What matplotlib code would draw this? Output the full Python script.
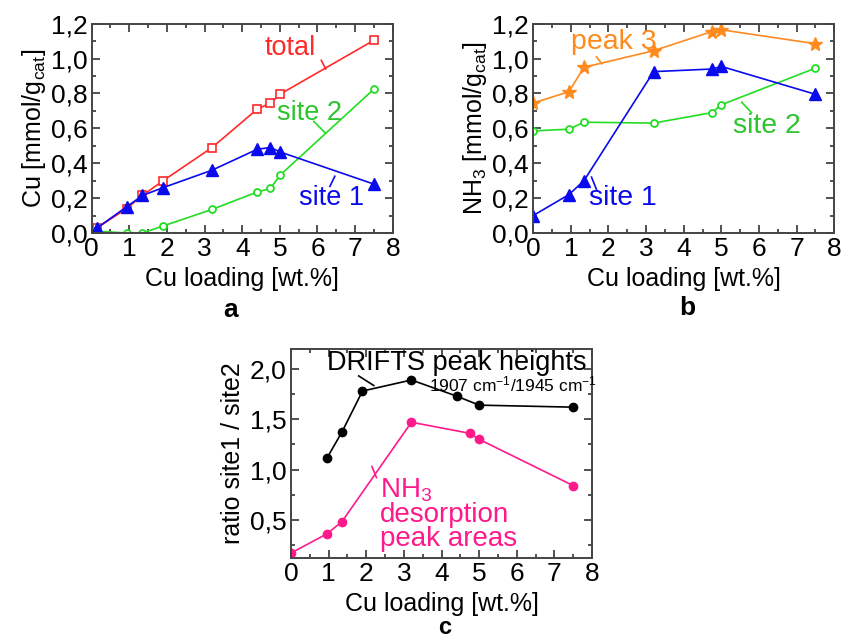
import matplotlib
matplotlib.use('Agg')
import matplotlib.pyplot as plt
from matplotlib.ticker import MultipleLocator, FuncFormatter

plt.rcParams['font.family'] = ['Liberation Sans', 'DejaVu Sans']
plt.rcParams['mathtext.fontset'] = 'custom'
plt.rcParams['mathtext.rm'] = 'Liberation Sans'
plt.rcParams['mathtext.it'] = 'Liberation Sans:italic'

# panel a: Cu content vs Cu loading
a_x = [0.15, 0.93, 1.35, 1.9, 3.2, 4.4, 4.75, 5.0, 7.5]
a_total = [0.03, 0.14, 0.215, 0.30, 0.49, 0.71, 0.745, 0.795, 1.105]
a_site1 = [0.03, 0.15, 0.215, 0.26, 0.36, 0.48, 0.49, 0.465, 0.28]
a_site2 = [0.01, 0.0, 0.0, 0.04, 0.135, 0.235, 0.255, 0.33, 0.825]

# panel b: NH3 vs Cu loading
b_x = [0.0, 0.95, 1.35, 3.2, 4.75, 5.0, 7.5]
b_peak3 = [0.745, 0.81, 0.95, 1.045, 1.155, 1.165, 1.085]
b_site1 = [0.10, 0.22, 0.30, 0.925, 0.94, 0.955, 0.795]
b_site2 = [0.585, 0.595, 0.635, 0.63, 0.69, 0.735, 0.945]

# panel c: ratio site1/site2
c_drifts_x = [0.95, 1.35, 1.9, 3.2, 4.4, 5.0, 7.5]
c_drifts = [1.11, 1.37, 1.78, 1.89, 1.73, 1.64, 1.62]
c_nh3_x = [0.0, 0.95, 1.35, 3.2, 4.75, 5.0, 7.5]
c_nh3 = [0.17, 0.36, 0.48, 1.47, 1.36, 1.30, 0.84]

RED = '#ff2a2a'
BLUE = '#0a0aee'
GREEN = '#22dd22'
GREEN_TXT = '#2ec42e'
ORANGE = '#ff8a1e'
PINK = '#ff1a8c'

comma = FuncFormatter(lambda v, p: ('%.1f' % v).replace('.', ','))


def style_ax(ax, ymaj, ymin):
    ax.set_xlim(0, 8)
    ax.xaxis.set_major_locator(MultipleLocator(1))
    ax.xaxis.set_minor_locator(MultipleLocator(0.5))
    ax.yaxis.set_major_locator(MultipleLocator(ymaj))
    ax.yaxis.set_minor_locator(MultipleLocator(ymin))
    ax.yaxis.set_major_formatter(comma)
    ax.tick_params(which='both', direction='in', top=True, right=True, labelsize=19,
                   width=1.2, color='#333333', pad=3)
    ax.tick_params(which='major', length=6)
    ax.tick_params(which='minor', length=3)
    for s in ax.spines.values():
        s.set_linewidth(1.4)
        s.set_color('#444444')
    ax.set_xlabel('Cu loading [wt.%]', fontsize=18, labelpad=4)


def leader(ax, p1, p2, color):
    ax.plot([p1[0], p2[0]], [p1[1], p2[1]], color=color, lw=1.2)


fig = plt.figure(figsize=(8.41, 6.4), dpi=100)

# ---- a ----
ax = fig.add_axes([0.109, 0.636, 0.358, 0.327])
ax.plot(a_x, a_total, color=RED, marker='s', mfc='white', mec=RED, ms=5.5, mew=1.2, lw=1.2)
ax.plot(a_x, a_site2, color=GREEN, marker='o', mfc='white', mec=GREEN, ms=5, mew=1.3, lw=1.2)
ax.plot(a_x, a_site1, color=BLUE, marker='^', mfc=BLUE, mec=BLUE, ms=8, lw=1.2)
ax.set_ylim(0, 1.2)
style_ax(ax, 0.2, 0.1)
ax.set_ylabel(r'Cu [mmol/g$_{\mathrm{cat}}$]', fontsize=18, labelpad=2)
ax.text(5.27, 1.06, 'total', color=RED, fontsize=19.5, ha='center', va='center')
leader(ax, (6.1, 0.99), (6.22, 0.94), RED)
ax.text(5.8, 0.69, 'site 2', color=GREEN_TXT, fontsize=19.5, ha='center', va='center')
leader(ax, (5.9, 0.64), (6.2, 0.575), GREEN)
ax.text(6.37, 0.2, 'site 1', color=BLUE, fontsize=19.5, ha='center', va='center')
leader(ax, (6.33, 0.267), (6.46, 0.325), BLUE)
fig.text(0.274, 0.515, 'a', fontsize=19, fontweight='bold', ha='center', va='center')

# ---- b ----
ax = fig.add_axes([0.634, 0.636, 0.358, 0.327])
ax.plot(b_x, b_peak3, color=ORANGE, marker='*', mfc=ORANGE, mec=ORANGE, ms=10, lw=1.2)
ax.plot(b_x, b_site2, color=GREEN, marker='o', mfc='white', mec=GREEN, ms=5, mew=1.3, lw=1.2)
ax.plot(b_x, b_site1, color=BLUE, marker='^', mfc=BLUE, mec=BLUE, ms=8, lw=1.2)
ax.set_ylim(0, 1.2)
style_ax(ax, 0.2, 0.1)
ax.set_ylabel(r'NH$_3$ [mmol/g$_{\mathrm{cat}}$]', fontsize=18, labelpad=2)
ax.text(2.13, 1.095, 'peak 3', color=ORANGE, fontsize=20.5, ha='center', va='center')
leader(ax, (1.68, 1.01), (1.82, 0.97), ORANGE)
ax.text(6.2, 0.615, 'site 2', color=GREEN_TXT, fontsize=20.5, ha='center', va='center')
leader(ax, (5.8, 0.69), (5.54, 0.75), GREEN)
ax.text(2.39, 0.2, 'site 1', color=BLUE, fontsize=20.5, ha='center', va='center')
leader(ax, (1.68, 0.25), (1.55, 0.32), BLUE)
fig.text(0.817, 0.519, 'b', fontsize=19, fontweight='bold', ha='center', va='center')

# ---- c ----
ax = fig.add_axes([0.346, 0.128, 0.358, 0.327])
ax.plot(c_drifts_x, c_drifts, color='black', marker='o', ms=6, lw=1.2)
ax.plot(c_nh3_x, c_nh3, color=PINK, marker='o', mfc=PINK, mec=PINK, ms=6, lw=1.2)
ax.set_ylim(0.12, 2.2)
style_ax(ax, 0.5, 0.25)
ax.set_ylabel('ratio site1 / site2', fontsize=18, labelpad=4)
ax.text(4.41, 2.06, 'DRIFTS peak heights', color='black', fontsize=19.5, ha='center', va='center')
ax.text(5.9, 1.85, r'1907 cm$^{-1}$/1945 cm$^{-1}$', color='black', fontsize=12.5,
        ha='center', va='center')
leader(ax, (1.8, 1.93), (2.2, 1.835), 'black')
ax.text(2.37, 0.56, 'NH$_3$\ndesorption\npeak areas', color=PINK, fontsize=20,
        ha='left', va='center', linespacing=0.9)
leader(ax, (2.15, 1.03), (2.27, 0.92), PINK)
fig.text(0.529, 0.002, 'c', fontsize=17, fontweight='bold', ha='center', va='bottom')

fig.savefig('out.png', dpi=100)
